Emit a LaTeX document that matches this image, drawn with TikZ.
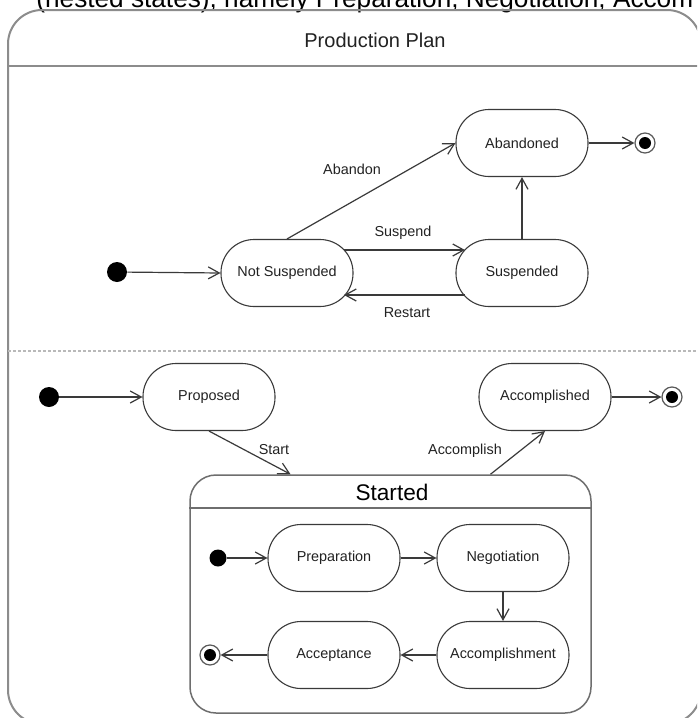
\documentclass[tikz,border=0pt]{standalone}
\usepackage{fontspec}
\setmainfont{Liberation Sans}
\usetikzlibrary{arrows.meta,calc}

\definecolor{stroke}{HTML}{3A3A3A}
\definecolor{txt}{HTML}{222222}
\definecolor{framecol}{HTML}{8C8C8C}
\definecolor{boxcol}{HTML}{6E6E6E}
\definecolor{ringcol}{HTML}{5A5A5A}

\begin{document}
\begin{tikzpicture}[x=0.5pt,y=-0.5pt,
  statebox/.style={draw=stroke, line width=0.55pt, rectangle, rounded corners=16.5pt,
    minimum width=66pt, minimum height=33.5pt, inner sep=0pt,
    font=\fontsize{7.2}{8}\selectfont, text=txt},
  trans/.style={draw=stroke, line width=0.6pt, -{Straight Barb[length=5.5pt,width=6pt]}},
  lbl/.style={font=\fontsize{7.2}{8}\selectfont, text=txt, inner sep=0pt},
  startdot/.style={circle, fill=black, minimum size=#1, inner sep=0pt},
  startdot/.default=10pt,
  enddot/.style={circle, draw=ringcol, line width=0.6pt, fill=white, minimum size=10pt,
    inner sep=0pt, path picture={\fill[black] (path picture bounding box.center) circle (3pt);}},
  frame/.style={draw=framecol, line width=1pt},
  ]

% page area
\useasboundingbox (0,0) rectangle (697,718);
\fill[white] (0,0) rectangle (697,718);
\clip (0,0) rectangle (697,718);

% caption line running above the diagram
\node[anchor=base west, inner sep=0pt, font=\fontsize{13.1}{15}\selectfont, text=black]
  (caption) at (36,7.5) {(nested states), namely Preparation, Negotiation, Accom};

% outer composite state
\draw[frame, rounded corners=17pt] (8,10) rectangle (701,724);
\node[font=\fontsize{10}{12}\selectfont, text=txt] (plan) at (375,40) {Production Plan};
\coordinate (titlesep) at (0,66);
\coordinate (regionsep) at (0,351);
\draw[frame] (8,66) -- (701,66);
\draw[draw=gray!55, line width=0.6pt, dash pattern=on 1.5pt off 1pt] (8,351) -- (701,351);

% ---------- upper region ----------
\node[startdot] (i1) at (117,272) {};
\node[statebox] (ns) at (287,273) {Not Suspended};
\node[statebox] (ab) at (522,143) {Abandoned};
\node[statebox] (su) at (522,273) {Suspended};
\node[enddot] (f1) at (645,143) {};

\draw[trans] (i1) -- (ns.west);
\draw[trans] (ns.north) -- (ab.west);
\draw[trans] ($(ns)+(57,-23)$) -- ($(su)+(-57,-23)$);
\draw[trans] ($(su)+(-57,22)$) -- ($(ns)+(57,22)$);
\draw[trans] (su.north) -- (ab.south);
\draw[trans] (ab.east) -- (f1);

\node[lbl] (labab) at (352,169) {Abandon};
\node[lbl] (labsu) at (403,233) {Suspend};
\node[lbl] (labre) at (407,313) {Restart};

% ---------- lower region ----------
\node[startdot] (i2) at (49,397) {};
\node[statebox] (pr) at (209,397) {Proposed};
\node[statebox] (ac) at (545,397) {Accomplished};
\node[enddot] (f2) at (672,397) {};

% nested composite state
\node[draw=boxcol, line width=0.75pt, rounded corners=13pt, minimum width=200.5pt,
  minimum height=119pt, inner sep=0pt] (st) at (390.5,594) {};
\coordinate (stsep) at (0,508);
\draw[draw=boxcol, line width=0.75pt] (st.west |- stsep) -- (st.east |- stsep);
\node[font=\fontsize{11.3}{13}\selectfont, text=black] (sttitle) at (392,492) {Started};

\draw[trans] (i2) -- (pr.west);
\draw[trans] (pr.south) -- ($(st.north)+(-100,0)$);
\draw[trans] ($(st.north)+(100,0)$) -- (ac.south);
\draw[trans] (ac.east) -- (f2);

\node[lbl] (labst) at (274,450) {Start};
\node[lbl] (labac) at (465,451) {Accomplish};

% substates of Started
\node[startdot=8.5pt] (i3) at (218,558) {};
\node[statebox] (prep) at (334,558) {Preparation};
\node[statebox] (neg) at (503,558) {Negotiation};
\node[statebox] (acm) at (503,655) {Accomplishment};
\node[statebox] (acp) at (334,655) {Acceptance};
\node[enddot] (f3) at (210,655) {};

\draw[trans] (i3) -- (prep.west);
\draw[trans] (prep.east) -- (neg.west);
\draw[trans] (neg.south) -- (acm.north);
\draw[trans] (acm.west) -- (acp.east);
\draw[trans] (acp.west) -- (f3);

\end{tikzpicture}
\end{document}
